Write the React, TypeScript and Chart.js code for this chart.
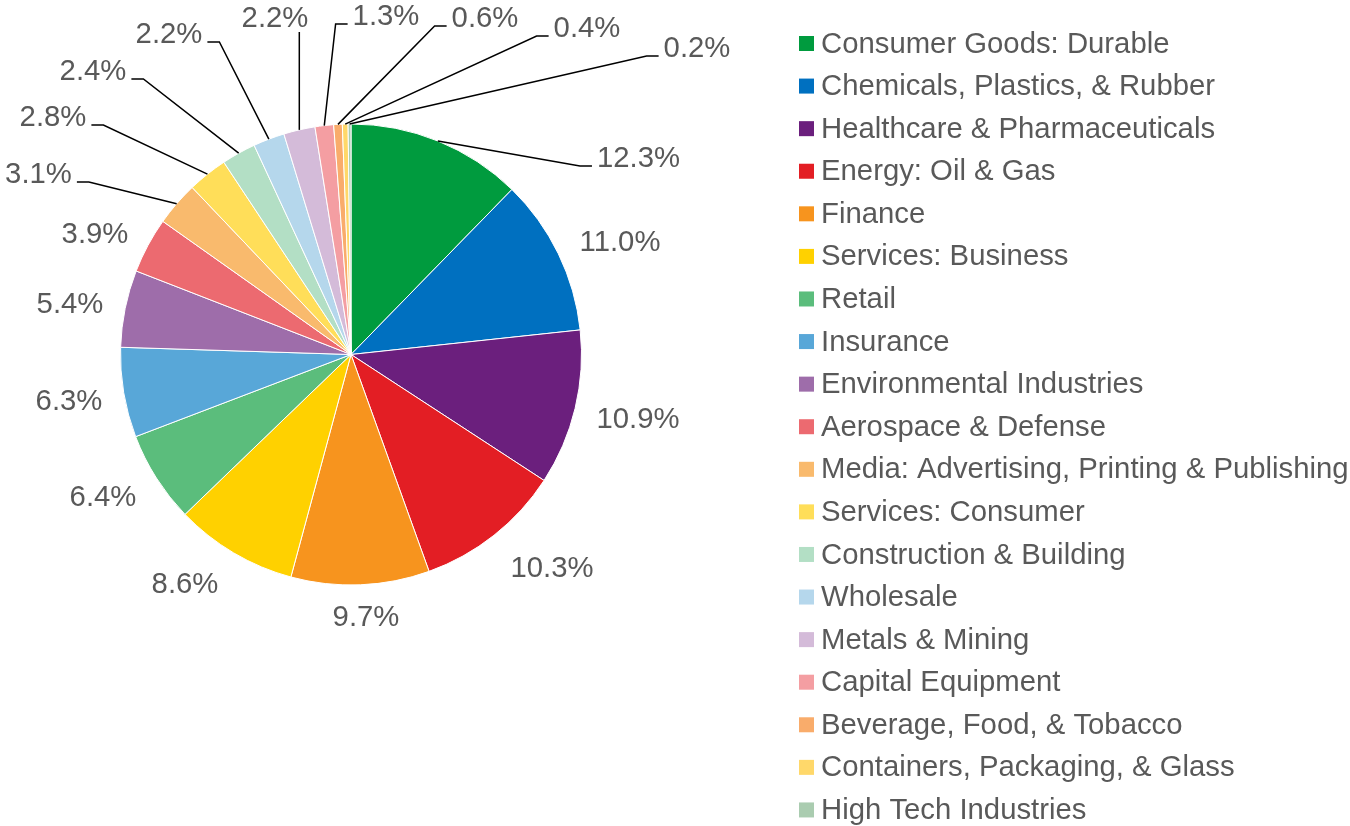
import React, { useEffect, useRef } from "react";
import { Chart, registerables } from "chart.js";

Chart.register(...registerables);

const categories = [
  "Consumer Goods: Durable",
  "Chemicals, Plastics, & Rubber",
  "Healthcare & Pharmaceuticals",
  "Energy: Oil & Gas",
  "Finance",
  "Services: Business",
  "Retail",
  "Insurance",
  "Environmental Industries",
  "Aerospace & Defense",
  "Media: Advertising, Printing & Publishing",
  "Services: Consumer",
  "Construction & Building",
  "Wholesale",
  "Metals & Mining",
  "Capital Equipment",
  "Beverage, Food, & Tobacco",
  "Containers, Packaging, & Glass",
  "High Tech Industries",
];

const shares = [12.3, 11.0, 10.9, 10.3, 9.7, 8.6, 6.4, 6.3, 5.4, 3.9, 3.1, 2.8, 2.4, 2.2, 2.2, 1.3, 0.6, 0.4, 0.2];

const colors = [
  "#009B3E", "#0070C0", "#6B1F7D", "#E31E24", "#F7941E", "#FFD100",
  "#5BBD7C", "#58A7D8", "#9E6DAA", "#EC6A70", "#F9BA6D", "#FFDE59",
  "#B3DFC5", "#B5D7EC", "#D4BBD9", "#F49EA2", "#F9AC6B", "#FFD86A", "#AACCB0",
];

// label placement relative to pie centre: [dx, dy, leader mode]
const labelLayout: [number, number, string][] = [
  [287.5, -197.5, "R"],
  [269, -113.5, ""],
  [287, 63.5, ""],
  [201, 212.5, ""],
  [15, 261.5, ""],
  [-166, 228.5, ""],
  [-248, 141.5, ""],
  [-282, 45.5, ""],
  [-281, -51.5, ""],
  [-256, -121.5, ""],
  [-312.5, -181.5, "L"],
  [-298, -238.5, "L"],
  [-258, -284.5, "L"],
  [-182, -321.5, "L"],
  [-76, -337.5, "V"],
  [35, -339.5, "R"],
  [134, -337.5, "R"],
  [236, -327.5, "R"],
  [346, -307.5, "R"],
];

const FONT = "29.3px 'Liberation Sans', Arial, sans-serif";
const TEXT = "#595959";

const labelPlugin = {
  id: "pctLabels",
  afterDraw(chart: any) {
    const ctx = chart.ctx;
    const meta = chart.getDatasetMeta(0);
    ctx.save();
    ctx.font = FONT;
    ctx.textBaseline = "middle";
    ctx.textAlign = "center";
    meta.data.forEach((arc: any, i: number) => {
      const p = arc.getProps(["x", "y", "startAngle", "endAngle", "outerRadius"], true);
      const mid = (p.startAngle + p.endAngle) / 2;
      const ex = p.x + Math.cos(mid) * p.outerRadius;
      const ey = p.y + Math.sin(mid) * p.outerRadius;
      const [dx, dy, mode] = labelLayout[i];
      const tx = p.x + dx;
      const ty = p.y + dy;
      const txt = shares[i].toFixed(1) + "%";
      const w = ctx.measureText(txt).width;
      ctx.strokeStyle = "#000";
      ctx.lineWidth = 1.5;
      if (mode === "L" || mode === "R") {
        const ly = ty + 9;
        let x1: number, x2: number;
        if (mode === "L") {
          x1 = tx + w / 2 + 5;
          x2 = x1 + 12;
        } else {
          x1 = tx - w / 2 - 5;
          x2 = x1 - 12;
        }
        ctx.beginPath();
        ctx.moveTo(x1, ly);
        ctx.lineTo(x2, ly);
        ctx.lineTo(ex, ey);
        ctx.stroke();
      } else if (mode === "V") {
        ctx.beginPath();
        ctx.moveTo(ex, ty + 15);
        ctx.lineTo(ex, ey);
        ctx.stroke();
      }
      ctx.fillStyle = TEXT;
      ctx.fillText(txt, tx, ty + 2);
    });
    ctx.restore();
  },
};

const legendPlugin = {
  id: "sideLegend",
  afterDraw(chart: any) {
    const ctx = chart.ctx;
    ctx.save();
    ctx.font = FONT;
    ctx.textBaseline = "middle";
    ctx.textAlign = "left";
    const x0 = 799;
    const y0 = 43.5;
    const step = 42.58;
    categories.forEach((c, i) => {
      const y = y0 + i * step;
      ctx.fillStyle = colors[i];
      ctx.fillRect(x0, y - 7.5, 15, 15);
      ctx.fillStyle = TEXT;
      ctx.fillText(c, x0 + 22, y + 1);
    });
    ctx.restore();
  },
};

export default function App() {
  const ref = useRef<HTMLCanvasElement>(null);
  useEffect(() => {
    document.body.style.margin = "0";
    const chart = new Chart(ref.current as HTMLCanvasElement, {
      type: "pie",
      data: {
        labels: categories,
        datasets: [
          {
            data: shares,
            backgroundColor: colors,
            borderColor: "#ffffff",
            borderWidth: 1,
          },
        ],
      },
      options: {
        responsive: false,
        animation: false,
        devicePixelRatio: 1,
        layout: { padding: { left: 120, right: 768, top: 123.5, bottom: 240.5 } },
        plugins: {
          legend: { display: false },
          tooltip: { enabled: false },
        },
      },
      plugins: [labelPlugin, legendPlugin],
    });
    return () => chart.destroy();
  }, []);
  return (
    <div style={{ position: "absolute", left: 0, top: 0, width: 1350, height: 826, background: "#fff" }}>
      <canvas ref={ref} width={1350} height={826} />
    </div>
  );
}
